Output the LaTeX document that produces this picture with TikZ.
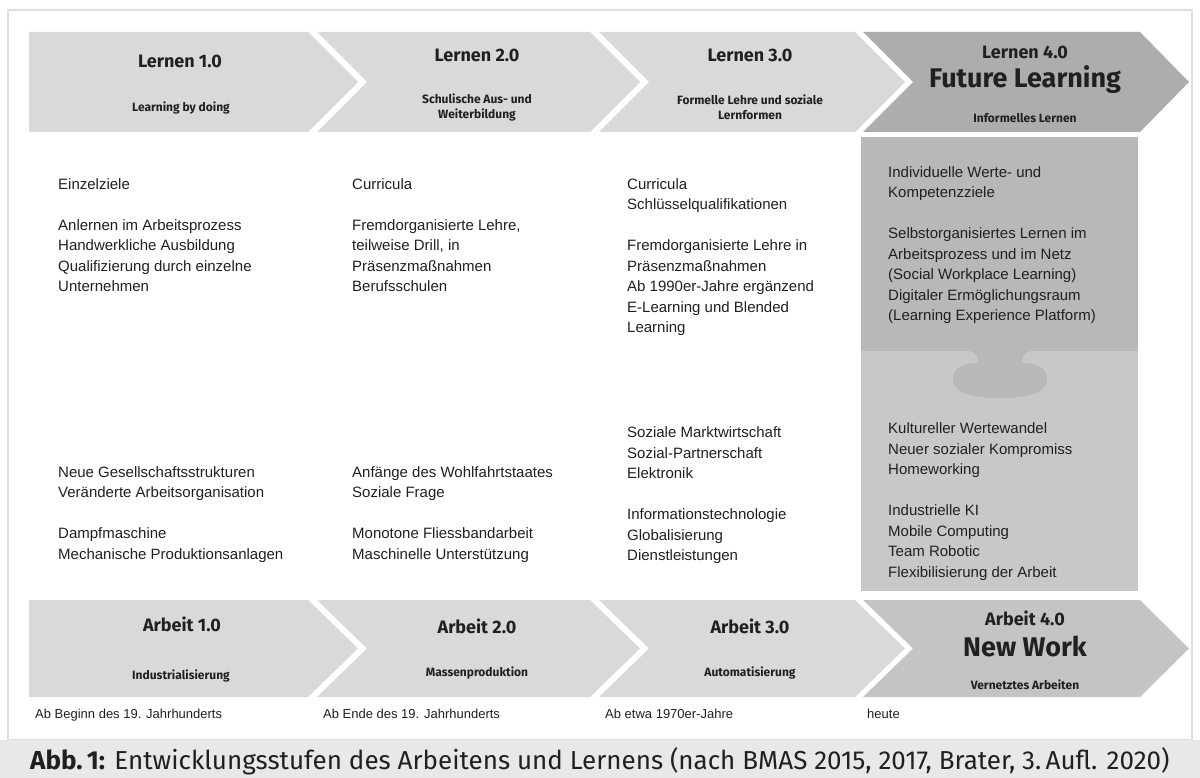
\documentclass[tikz,border=0pt]{standalone}
\usepackage{fontspec}
\setmainfont{Liberation Sans}
\newfontfamily\hdr{Fira Sans}
\newfontfamily\capfont{Fira Sans}
\definecolor{arrowlight}{HTML}{D9D9D9}
\definecolor{arrowdark}{HTML}{ADADAD}
\definecolor{arrowdarkb}{HTML}{C4C4C4}
\definecolor{paneltop}{HTML}{B8B8B8}
\definecolor{panelbot}{HTML}{C8C8C8}
\definecolor{framecol}{HTML}{DEDEDE}
\definecolor{capband}{HTML}{E8E8E8}
\definecolor{txt}{HTML}{202020}
\newcommand\mylines[1]{\vtop{\baselineskip=20.5pt\lineskiplimit=-20pt\lineskip=0pt\halign{##\hfil\cr#1\crcr}}}
\tikzset{
  x=1pt, y=-1pt,
  title/.style={inner sep=0pt, text=txt, font=\hdr\bfseries\fontsize{18}{20}\selectfont},
  bigtitle/.style={inner sep=0pt, text=txt, font=\hdr\bfseries\fontsize{27}{30}\selectfont},
  sub/.style={inner sep=0pt, text=txt, align=center, font=\hdr\bfseries\fontsize{12}{15}\selectfont},
  body/.style={inner sep=0pt, anchor=base west, text=txt, font=\fontsize{15}{20.5}\selectfont},
  datel/.style={inner sep=0pt, anchor=base west, text=txt, font=\fontsize{13}{15}\selectfont},
}
\begin{document}
\begin{tikzpicture}
\useasboundingbox (0,0) rectangle (1200,778);
\fill[white] (0,0) rectangle (1200,778);
% frame and caption band
\draw[framecol, line width=2.5pt] (8,10) rectangle (1192,740);
\fill[capband] (0,740) rectangle (1200,778);

% top chevrons
\fill[arrowlight] (29,32) -- (308,32) -- (358,82) -- (308,132) -- (29,132) -- cycle;
\fill[arrowlight] (317,32) -- (590,32) -- (640,82) -- (590,132) -- (317,132) -- (367,82) -- cycle;
\fill[arrowlight] (599,32) -- (855,32) -- (905,82) -- (855,132) -- (599,132) -- (649,82) -- cycle;
\fill[arrowdark] (863,32) -- (1140,32) -- (1189,82) -- (1140,132) -- (863,132) -- (913,82) -- cycle;

% bottom chevrons
\fill[arrowlight] (29,600) -- (308,600) -- (358,648.5) -- (308,697) -- (29,697) -- cycle;
\fill[arrowlight] (317,600) -- (590,600) -- (640,648.5) -- (590,697) -- (317,697) -- (367,648.5) -- cycle;
\fill[arrowlight] (599,600) -- (855,600) -- (905,648.5) -- (855,697) -- (599,697) -- (649,648.5) -- cycle;
\fill[arrowdarkb] (863,600) -- (1140,600) -- (1189,648.5) -- (1140,697) -- (863,697) -- (913,648.5) -- cycle;

% puzzle panel
\fill[panelbot] (861,350) rectangle (1138,591);
\fill[paneltop] (861,137) rectangle (1138,351);
\fill[paneltop] (960,350) .. controls (974,350) and (978,354) .. (978,363)
  .. controls (960,363) and (952,370) .. (953,380)
  .. controls (954,394) and (975,398) .. (1000,398)
  .. controls (1025,398) and (1046,394) .. (1047,380)
  .. controls (1048,370) and (1040,363) .. (1022,363)
  .. controls (1022,354) and (1026,350) .. (1040,350) -- cycle;

% top headers
\node[title] (l1) at (180,61) {Lernen 1.0};
\node[sub] (l1s) at (181,108) {Learning by doing};
\node[title] (l2) at (477,55) {Lernen 2.0};
\node[sub] (l2s) at (477,107.5) {Schulische Aus- und\\Weiterbildung};
\node[title] (l3) at (750,55) {Lernen 3.0};
\node[sub] (l3s) at (750,107.5) {Formelle Lehre und soziale\\Lernformen};
\node[title] (l4) at (1025,52) {Lernen 4.0};
\node[bigtitle] (l4b) at (1025,80) {Future Learning};
\node[sub] (l4s) at (1025,118) {Informelles Lernen};

% bottom headers
\node[title] (a1) at (182,624) {Arbeit 1.0};
\node[sub] (a1s) at (181,676) {Industrialisierung};
\node[title] (a2) at (477,626) {Arbeit 2.0};
\node[sub] (a2s) at (477,673) {Massenproduktion};
\node[title] (a3) at (750,626) {Arbeit 3.0};
\node[sub] (a3s) at (750,673) {Automatisierung};
\node[title] (a4) at (1025,618) {Arbeit 4.0};
\node[bigtitle] (a4b) at (1025,646) {New Work};
\node[sub] (a4s) at (1025,685) {Vernetztes Arbeiten};

% body texts, upper
\node[body] (c1t) at (58,189.5) {\mylines{Einzelziele\cr\cr Anlernen im Arbeitsprozess\cr Handwerkliche Ausbildung\cr Qualifizierung durch einzelne\cr Unternehmen}};
\node[body] (c2t) at (352,189.5) {\mylines{Curricula\cr\cr Fremdorganisierte Lehre,\cr teilweise Drill, in\cr Präsenzmaßnahmen\cr Berufsschulen}};
\node[body] (c3t) at (627,189.5) {\mylines{Curricula\cr Schlüsselqualifikationen\cr\cr Fremdorganisierte Lehre in\cr Präsenzmaßnahmen\cr Ab 1990er-Jahre ergänzend\cr E-Learning und Blended\cr Learning}};
\node[body] (c4t) at (888,177.5) {\mylines{Individuelle Werte- und\cr Kompetenzziele\cr\cr Selbstorganisiertes Lernen im\cr Arbeitsprozess und im Netz\cr (Social Workplace Learning)\cr Digitaler Ermöglichungsraum\cr (Learning Experience Platform)}};

% body texts, lower
\node[body] (c1b) at (58,477) {\mylines{Neue Gesellschaftsstrukturen\cr Veränderte Arbeitsorganisation\cr\cr Dampfmaschine\cr Mechanische Produktionsanlagen}};
\node[body] (c2b) at (352,477) {\mylines{Anfänge des Wohlfahrtstaates\cr Soziale Frage\cr\cr Monotone Fliessbandarbeit\cr Maschinelle Unterstützung}};
\node[body] (c3b) at (627,437.5) {\mylines{Soziale Marktwirtschaft\cr Sozial-Partnerschaft\cr Elektronik\cr\cr Informationstechnologie\cr Globalisierung\cr Dienstleistungen}};
\node[body] (c4b) at (888,433.5) {\mylines{Kultureller Wertewandel\cr Neuer sozialer Kompromiss\cr Homeworking\cr\cr Industrielle KI\cr Mobile Computing\cr Team Robotic\cr Flexibilisierung der Arbeit}};

% dates
\node[datel] (d1) at (35,718.5) {Ab Beginn des 19. Jahrhunderts};
\node[datel] (d2) at (323,718.5) {Ab Ende des 19. Jahrhunderts};
\node[datel] (d3) at (605,718.5) {Ab etwa 1970er-Jahre};
\node[datel] (d4) at (867,718.5) {heute};

% caption
\node[inner sep=0pt, anchor=base west, text=txt, font=\capfont\fontsize{26}{28}\selectfont] (cap) at (30,769) {\textbf{Abb.\,1:} Entwicklungsstufen des Arbeitens und Lernens (nach BMAS 2015, 2017, Brater, 3.\,Aufl. 2020)};
\end{tikzpicture}
\end{document}
